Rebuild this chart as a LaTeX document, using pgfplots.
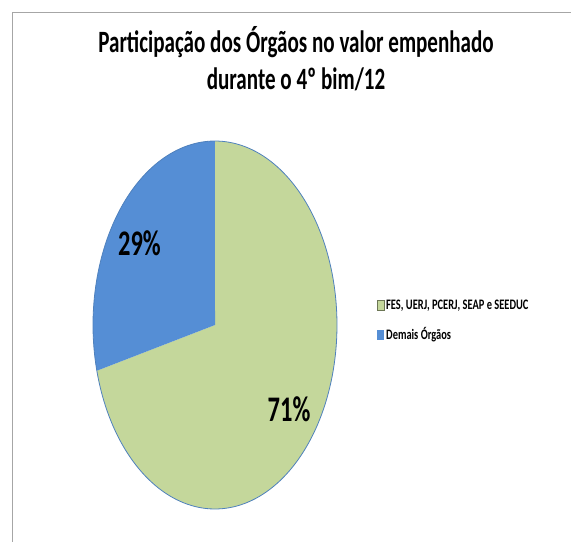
\documentclass[border=0pt]{standalone}
\usepackage{pgfplots}
\pgfplotsset{compat=1.18}
\usepackage{pgfplotstable}
\usepackage{fontspec}
\setmainfont{Carlito}
\newfontfamily\cn[FakeStretch=0.68]{Carlito}
\newfontfamily\cl[FakeStretch=0.72]{Carlito}
\definecolor{pgreen}{HTML}{C4D79B}
\definecolor{pblue}{HTML}{558ED5}
\definecolor{pedge}{HTML}{4F81BD}
\definecolor{frame}{HTML}{A6A6A6}

\pgfplotstableread{
share
71
29
}\piedata

\begin{document}
\begin{tikzpicture}
\path[use as bounding box] (0,0) rectangle (571bp,542bp);
\draw[frame, line width=1.2bp] (12.5bp,0) -- (12.5bp,529.5bp) -- (571bp,529.5bp);
\pgfplotstablegetelem{0}{share}\of\piedata \edef\va{\pgfplotsretval}
\pgfplotstablegetelem{1}{share}\of\piedata \edef\vb{\pgfplotsretval}
\begin{axis}[hide axis, scale only axis, width=244bp, height=368bp,
  xmin=-1, xmax=1, ymin=-1, ymax=1, clip=false,
  at={(93bp,33bp)}, anchor=south west]
\pgfmathsetmacro{\aend}{90-3.6*\va}
\pgfmathsetmacro{\bend}{\aend-3.6*\vb}
\addplot[fill=pgreen, draw=none, domain=90:\aend, samples=150]
  ({cos(x)},{sin(x)}) -- (axis cs:0,0) -- cycle;
\addplot[fill=pblue, draw=none, domain=\aend:\bend, samples=80]
  ({cos(x)},{sin(x)}) -- (axis cs:0,0) -- cycle;
\addplot[draw=pedge, line width=0.8bp, domain=0:360, samples=200]
  ({cos(x)},{sin(x)});
\node at (axis cs:0.607,-0.459) {\cn\bfseries\fontsize{36bp}{36bp}\selectfont 71\%};
\node at (axis cs:-0.619,0.446) {\cn\bfseries\fontsize{36bp}{36bp}\selectfont 29\%};
\end{axis}
\node[anchor=base] at (296bp,489.5bp) {\cn\bfseries\fontsize{31bp}{31bp}\selectfont Participação dos Órgãos no valor empenhado};
\node[anchor=base] at (296bp,452bp) {\cn\bfseries\fontsize{31bp}{31bp}\selectfont durante o 4º bim/12};
\fill[pgreen, draw=black!45!pgreen, line width=0.6bp] (377bp,231.5bp) rectangle (384bp,241.5bp);
\fill[pblue] (377bp,201.5bp) rectangle (384bp,211.5bp);
\node[anchor=base west, inner sep=0pt] at (386bp,232bp) {\cl\bfseries\fontsize{14.5bp}{14.5bp}\selectfont FES, UERJ, PCERJ, SEAP e SEEDUC};
\node[anchor=base west, inner sep=0pt] at (386bp,202bp) {\cl\bfseries\fontsize{14.5bp}{14.5bp}\selectfont Demais Órgãos};
\end{tikzpicture}
\end{document}
